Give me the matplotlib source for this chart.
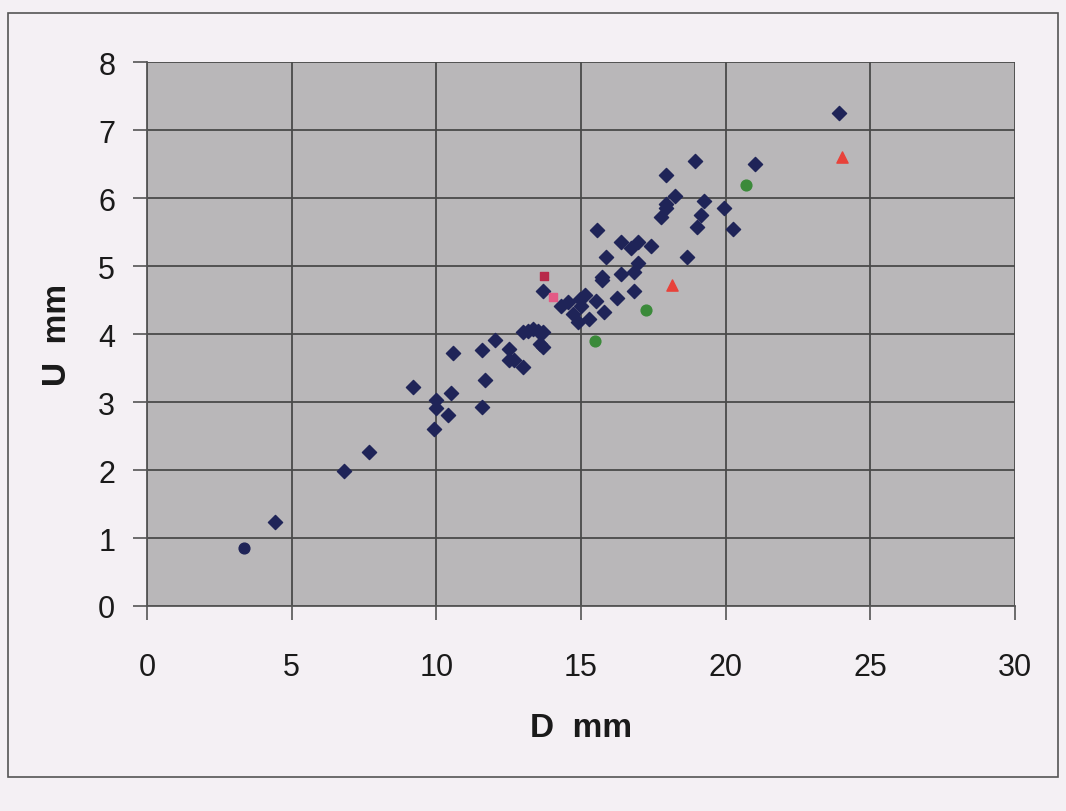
import matplotlib.pyplot as plt
from matplotlib.patches import Rectangle

# D (mm) / U (mm) readings, main series
d_main = [4.42, 6.80, 7.68, 9.92, 9.20, 9.98, 9.98, 10.50, 10.39, 10.56,
          11.57, 11.69, 11.57, 12.03, 12.50, 12.50, 12.69, 12.98, 13.00, 13.17,
          13.34, 13.52, 13.69, 13.58, 13.67, 13.67, 14.32, 14.55, 14.73, 14.90,
          14.98, 15.15, 15.00, 15.27, 15.51, 15.80, 16.26, 16.85, 15.72, 15.73,
          16.37, 16.85, 16.97, 15.86, 15.55, 16.37, 16.72, 16.97, 17.43, 18.66,
          17.95, 18.93, 21.03, 18.26, 19.25, 17.95, 17.95, 19.95, 17.78, 19.14,
          19.01, 20.25, 23.91]
u_main = [1.24, 1.99, 2.26, 2.61, 3.22, 3.03, 2.91, 3.14, 2.81, 3.72,
          2.93, 3.32, 3.77, 3.92, 3.78, 3.62, 3.62, 3.52, 4.03, 4.05,
          4.08, 4.05, 4.03, 3.86, 3.81, 4.63, 4.42, 4.47, 4.30, 4.18,
          4.52, 4.57, 4.41, 4.22, 4.49, 4.33, 4.53, 4.63, 4.84, 4.80,
          4.89, 4.91, 5.05, 5.14, 5.54, 5.35, 5.27, 5.35, 5.30, 5.14,
          6.34, 6.55, 6.50, 6.04, 5.96, 5.91, 5.85, 5.86, 5.73, 5.76,
          5.58, 5.55, 7.25]

# other series
d_circle = [3.35]
u_circle = [0.86]
d_sq_dark = [13.73]
u_sq_dark = [4.85]
d_sq_pink = [14.03]
u_sq_pink = [4.55]
d_green = [15.48, 17.26, 20.69]
u_green = [3.90, 4.35, 6.20]
d_tri = [18.16, 24.03]
u_tri = [4.73, 6.61]

x_ticks = [0, 5, 10, 15, 20, 25, 30]
y_ticks = [0, 1, 2, 3, 4, 5, 6, 7, 8]

plt.rcParams['font.family'] = ['Liberation Sans', 'DejaVu Sans']

fig = plt.figure(figsize=(10.66, 8.12), dpi=100, facecolor='#f4f0f4')
ax = fig.add_axes([0.138, 0.2525, 0.814, 0.6695])
ax.set_facecolor('#b9b7b9')

# outer chart border
fig.patches.append(Rectangle((0.0075, 0.042), 0.985, 0.941, transform=fig.transFigure,
                             fill=False, edgecolor='#555555', linewidth=1.2))

ax.set_axisbelow(True)
ax.grid(True, color='#4a4a4a', linewidth=1.3)

ax.scatter(d_main, u_main, marker='D', s=52, color='#1f2458', zorder=3)
ax.scatter(d_circle, u_circle, marker='o', s=60, color='#1f2458', zorder=3)
ax.scatter(d_sq_dark, u_sq_dark, marker='s', s=40, color='#b8294a', zorder=3)
ax.scatter(d_sq_pink, u_sq_pink, marker='s', s=40, color='#e35a85', zorder=3)
ax.scatter(d_green, u_green, marker='o', s=60, color='#3b8a3a', zorder=3)
ax.scatter(d_tri, u_tri, marker='^', s=65, color='#e8423a', zorder=3)

ax.set_xlim(0, 30)
ax.set_ylim(0, 8)
ax.set_xticks(x_ticks)
ax.set_yticks(y_ticks)
ax.tick_params(axis='both', direction='out', length=10, width=1.2, color='#555555',
               labelsize=22, labelcolor='#1a1a1a')
ax.tick_params(axis='x', pad=23)
ax.tick_params(axis='y', pad=13)

for side in ['top', 'right']:
    ax.spines[side].set_visible(False)
for side in ['left', 'bottom']:
    ax.spines[side].set_color('#555555')
    ax.spines[side].set_linewidth(1.3)

ax.set_xlabel('D  mm', fontsize=24, fontweight='bold', labelpad=22, color='#1a1a1a')
ax.set_ylabel('U  mm', fontsize=24, fontweight='bold', labelpad=18, color='#1a1a1a')

fig.savefig('out.png', dpi=100, facecolor=fig.get_facecolor())
